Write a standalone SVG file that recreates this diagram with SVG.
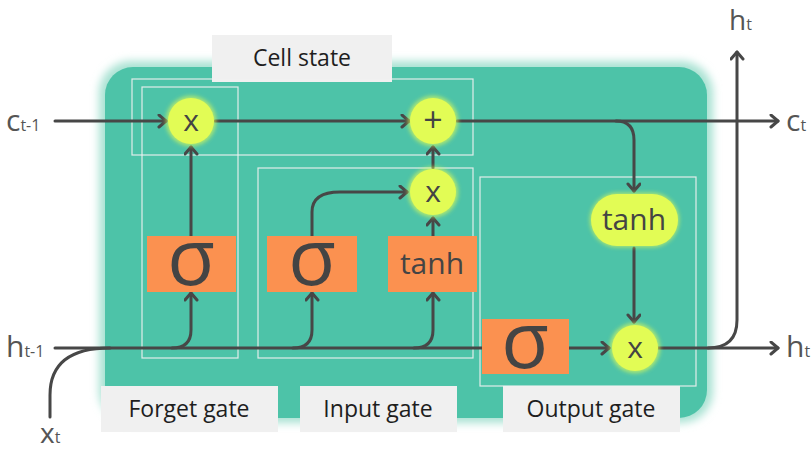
<svg xmlns="http://www.w3.org/2000/svg" width="811" height="451" viewBox="0 0 811 451">
<style>
.lbl{fill:#f0f0f0}
.lt{font-family:"Open Sans","Liberation Sans",sans-serif;font-size:23px;fill:#1e1e1e;text-anchor:middle}
.gate{fill:none;stroke:#f2f2f2;stroke-width:1.2;opacity:0.9}
.op{fill:#e2fc55}
.org{fill:#fb9150}
.sym{font-family:"Open Sans","Liberation Sans",sans-serif;fill:#444;text-anchor:middle}
.var{font-family:"Open Sans","Liberation Sans",sans-serif;fill:#555}
.c{fill:none;stroke:#474747;stroke-width:3;stroke-linecap:round}
.a{marker-end:url(#arr)}
</style>
<defs>
<marker id="arr" markerUnits="userSpaceOnUse" markerWidth="14" markerHeight="16" refX="10" refY="7" orient="auto">
<path d="M3,1 L10,7 L3,13" fill="none" stroke="#474747" stroke-width="3" stroke-linecap="round" stroke-linejoin="round"/>
</marker>
<filter id="glow" x="-10%" y="-10%" width="120%" height="120%">
<feGaussianBlur stdDeviation="4"/>
</filter>
<filter id="g2" x="-30%" y="-30%" width="160%" height="160%">
<feGaussianBlur stdDeviation="2"/>
</filter>
</defs>
<g id="cell">
<rect x="99" y="61" width="614" height="362" rx="32" fill="#a9e2d3" filter="url(#glow)"/>
<rect x="105" y="67" width="602" height="351" rx="28" fill="#4dc3a8"/>
</g>
<g id="labels">
<rect class="lbl" x="212" y="35" width="180" height="47"/>
<text class="lt" x="302" y="66">Cell state</text>
<rect class="lbl" x="101" y="386" width="177" height="46"/>
<text class="lt" x="189" y="417">Forget gate</text>
<rect class="lbl" x="300" y="386" width="157" height="46"/>
<text class="lt" x="378" y="417">Input gate</text>
<rect class="lbl" x="503" y="386" width="177" height="46"/>
<text class="lt" x="591" y="417">Output gate</text>
</g>
<g id="gates">
<rect class="gate" x="132" y="79" width="341" height="76"/>
<rect class="gate" x="142" y="87" width="96" height="271"/>
<rect class="gate" x="258" y="168" width="215" height="190"/>
<rect class="gate" x="480" y="177" width="216" height="209"/>
</g>
<g id="connectors">
<path class="c a" d="M55,121 H166"/>
<path class="c a" d="M215,121 H409"/>
<path class="c a" d="M457,121 H778"/>
<path class="c a" d="M616,121 Q634,121 634,140 V191"/>
<path class="c a" d="M634,248 V322"/>
<path class="c a" d="M569,348 H609"/>
<path class="c a" d="M658,348 H778"/>
<path class="c a" d="M708,348 Q737,348 737,320 V52"/>
<path class="c" d="M55,348 H482"/>
<path class="c" d="M50,417 V395 Q50,348 110,348"/>
<path class="c a" d="M172,348 Q191,348 191,330 V293"/>
<path class="c a" d="M191,236 V147"/>
<path class="c a" d="M293,348 Q312,348 312,330 V293"/>
<path class="c a" d="M414,348 Q433,348 433,330 V293"/>
<path class="c a" d="M312,236 V212 Q312,192 340,192 H407"/>
<path class="c a" d="M433,236 V218"/>
<path class="c a" d="M433,168 V147"/>
</g>
<g id="forget_mul">
<circle class="op" cx="191" cy="121" r="25" filter="url(#g2)" opacity="0.7"/>
<circle class="op" cx="191" cy="121" r="23"/>
<text class="sym" x="191" y="131" font-size="30">x</text>
</g>
<g id="add">
<circle class="op" cx="433" cy="121" r="25" filter="url(#g2)" opacity="0.7"/>
<circle class="op" cx="433" cy="121" r="23"/>
<text class="sym" x="433" y="132" font-size="34">+</text>
</g>
<g id="input_mul">
<circle class="op" cx="433" cy="192" r="25" filter="url(#g2)" opacity="0.7"/>
<circle class="op" cx="433" cy="192" r="23"/>
<text class="sym" x="433" y="202" font-size="30">x</text>
</g>
<g id="output_mul">
<circle class="op" cx="635" cy="348" r="25" filter="url(#g2)" opacity="0.7"/>
<circle class="op" cx="635" cy="348" r="23"/>
<text class="sym" x="635" y="358" font-size="30">x</text>
</g>
<g id="out_tanh">
<rect class="op" x="590" y="193" width="89" height="54" rx="27" filter="url(#g2)" opacity="0.7"/>
<rect class="op" x="591" y="194" width="87" height="52" rx="26"/>
<text class="sym" x="634" y="230" font-size="30">tanh</text>
</g>
<g id="forget_sigma">
<rect class="org" x="147" y="236" width="89" height="56"/>
<text class="sym" x="191" y="285" font-size="78">σ</text>
</g>
<g id="input_sigma">
<rect class="org" x="267" y="236" width="90" height="56"/>
<text class="sym" x="312" y="285" font-size="78">σ</text>
</g>
<g id="input_tanh">
<rect class="org" x="388" y="236" width="89" height="56"/>
<text class="sym" x="432" y="274" font-size="30">tanh</text>
</g>
<g id="output_sigma">
<rect class="org" x="482" y="319" width="87" height="55"/>
<text class="sym" x="525" y="368" font-size="78">σ</text>
</g>
<g id="vars">
<text class="var" x="6" y="131" font-size="30">c<tspan font-size="16">t-1</tspan></text>
<text class="var" x="6" y="357" font-size="30">h<tspan font-size="16">t-1</tspan></text>
<text class="var" x="40" y="443" font-size="28">x<tspan font-size="16">t</tspan></text>
<text class="var" x="786" y="131" font-size="30">c<tspan font-size="16">t</tspan></text>
<text class="var" x="786" y="357" font-size="30">h<tspan font-size="16">t</tspan></text>
<text class="var" x="729" y="30" font-size="28">h<tspan font-size="16">t</tspan></text>
</g>
</svg>
